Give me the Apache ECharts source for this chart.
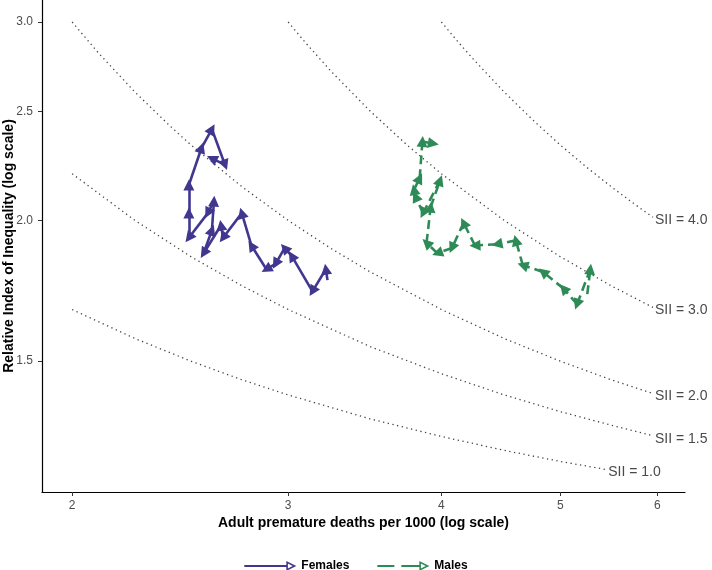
<!DOCTYPE html>
<html>
<head>
<meta charset="utf-8">
<script src="https://cdn.jsdelivr.net/npm/echarts@6/dist/echarts.min.js"></script>
<style>html,body{margin:0;padding:0;background:#fff;}#c{width:712px;height:570px;}</style>
</head>
<body>
<div id="c"></div>
<script>
// ---- data ----
const xTicks = [2, 3, 4, 5, 6];
const yTicks = [1.5, 2.0, 2.5, 3.0];
const xRange = [1.890, 6.319];
const yRange = [1.148, 3.138];

const femX = [3.23, 3.22, 3.14, 3.02, 2.98, 2.93, 2.88, 2.80, 2.75, 2.655, 2.645, 2.56, 2.60, 2.61, 2.58, 2.49, 2.49, 2.49, 2.55, 2.60, 2.665, 2.60];
const femY = [1.77, 1.81, 1.73, 1.86, 1.89, 1.83, 1.81, 1.90, 2.03, 1.93, 1.98, 1.87, 1.96, 2.08, 2.03, 1.93, 2.03, 2.15, 2.32, 2.41, 2.24, 2.27];

const maleX = [5.26, 5.29, 5.16, 5.03, 4.84, 4.66, 4.60, 4.44, 4.26, 4.17, 4.08, 3.97, 3.89, 3.92, 3.99, 3.865, 3.81, 3.80, 3.84, 3.86, 3.94];
const maleY = [1.72, 1.81, 1.685, 1.74, 1.80, 1.825, 1.92, 1.905, 1.90, 1.99, 1.89, 1.87, 1.91, 2.055, 2.17, 2.03, 2.10, 2.13, 2.18, 2.35, 2.34];

const sii10X = [2, 2.25, 2.5, 2.75, 3, 3.5, 4, 4.5, 5, 5.45];
const sii10Y = [1.667, 1.571, 1.5, 1.444, 1.4, 1.333, 1.286, 1.25, 1.222, 1.202];
const sii15X = [2, 2.25, 2.5, 2.75, 3, 3.5, 4, 4.5, 5, 5.5, 5.95];
const sii15Y = [2.2, 2.0, 1.857, 1.75, 1.667, 1.545, 1.462, 1.4, 1.353, 1.316, 1.288];
const sii20X = [2, 2.1, 2.25, 2.4, 2.5, 2.75, 3, 3.25, 3.5, 4, 4.5, 5, 5.5, 5.95];
const sii20Y = [3.0, 2.818, 2.6, 2.429, 2.333, 2.143, 2.0, 1.889, 1.8, 1.667, 1.571, 1.5, 1.444, 1.404];
const sii30X = [3, 3.1, 3.25, 3.5, 3.75, 4, 4.5, 5, 5.5, 5.95];
const sii30Y = [3.0, 2.875, 2.714, 2.5, 2.333, 2.2, 2.0, 1.857, 1.75, 1.674];
const sii40X = [4, 4.125, 4.25, 4.5, 4.75, 5, 5.25, 5.5, 5.75, 5.95];
const sii40Y = [3.0, 2.882, 2.778, 2.6, 2.455, 2.333, 2.231, 2.143, 2.067, 2.013];
const siiNames = ['SII = 1.0', 'SII = 1.5', 'SII = 2.0', 'SII = 3.0', 'SII = 4.0'];

// ---- build ----
const L = Math.log;
function pts(xs, ys) { return xs.map((x, i) => [L(x), L(ys[i])]); }
function segs(xs, ys) {
  const p = pts(xs, ys), out = [];
  for (let i = 0; i < p.length - 1; i++) out.push({ coords: [p[i], p[i + 1]] });
  return out;
}
const FEM = '#41378F';
const MAL = '#2E8B57';
const FONT = 'Liberation Sans, Arial, sans-serif';
const curveSets = [[sii10X, sii10Y], [sii15X, sii15Y], [sii20X, sii20Y], [sii30X, sii30Y], [sii40X, sii40Y]];

const curveSeries = curveSets.map((c, k) => ({
  type: 'line',
  name: siiNames[k],
  data: pts(c[0], c[1]),
  showSymbol: false,
  symbol: 'none',
  silent: true,
  lineStyle: { color: '#444', width: 1.3, type: [1.3, 3.5] },
  endLabel: {
    show: true, formatter: siiNames[k], distance: 2, offset: [0, 3],
    color: '#4a4a4a', fontSize: 14, fontFamily: FONT
  },
  z: 1
}));

const femIcon = 'path://M0,4H42V6H0Z M42,0L52,5L42,10Z M43.6,2.6L43.6,7.4L48.4,5Z';
const malIcon = 'path://M0,4H17V6H0Z M24,4H42V6H24Z M42,0L52,5L42,10Z M43.6,2.6L43.6,7.4L48.4,5Z';

const chart = echarts.init(document.getElementById('c'), null, { renderer: 'canvas' });
chart.setOption({
  animation: false,
  backgroundColor: '#fff',
  grid: { left: 42, right: 27, top: 0, bottom: 78, containLabel: false, outerBoundsMode: 'none' },
  xAxis: {
    type: 'value', min: L(xRange[0]), max: L(xRange[1]),
    name: 'Adult premature deaths per 1000 (log scale)',
    nameLocation: 'middle', nameGap: 31, nameMoveOverlap: false,
    nameTextStyle: { fontSize: 14, fontWeight: 'bold', color: '#000', fontFamily: FONT, verticalAlign: 'middle' },
    axisLine: { show: true, onZero: false, lineStyle: { color: '#000', width: 1.2 } },
    axisTick: { show: true, length: 4, lineStyle: { color: '#333' }, customValues: xTicks.map(L) },
    axisLabel: { show: true, margin: 8, color: '#4d4d4d', fontSize: 12, fontFamily: FONT,
      customValues: xTicks.map(L), formatter: v => String(Math.round(Math.exp(v))) },
    splitLine: { show: false }
  },
  yAxis: {
    type: 'value', min: L(yRange[0]), max: L(yRange[1]),
    name: 'Relative Index of Inequality (log scale)',
    nameLocation: 'middle', nameGap: 33, nameRotate: 90, nameMoveOverlap: false,
    nameTextStyle: { fontSize: 14, fontWeight: 'bold', color: '#000', fontFamily: FONT, verticalAlign: 'middle' },
    axisLine: { show: true, onZero: false, lineStyle: { color: '#000', width: 1.2 } },
    axisTick: { show: true, length: 4, lineStyle: { color: '#333' }, customValues: yTicks.map(L) },
    axisLabel: { show: true, margin: 9, color: '#4d4d4d', fontSize: 12, fontFamily: FONT,
      customValues: yTicks.map(L), formatter: v => Math.exp(v).toFixed(1) },
    splitLine: { show: false }
  },
  legend: {
    top: 555, left: 'center', itemWidth: 52, itemHeight: 10, itemGap: 28,
    textStyle: { fontSize: 12, fontWeight: 'bold', color: '#000', fontFamily: FONT },
    data: [
      { name: 'Females', icon: femIcon, itemStyle: { color: FEM, borderWidth: 0 } },
      { name: 'Males', icon: malIcon, itemStyle: { color: MAL, borderWidth: 0 } }
    ]
  },
  series: curveSeries.concat([
    {
      type: 'lines', name: 'Females', coordinateSystem: 'cartesian2d',
      data: segs(femX, femY), symbol: ['none', 'triangle'], symbolSize: 11,
      lineStyle: { color: FEM, width: 2.6, opacity: 1, type: 'solid' },
      itemStyle: { color: FEM }, color: FEM, silent: true, z: 5
    },
    {
      type: 'lines', name: 'Males', coordinateSystem: 'cartesian2d',
      data: segs(maleX, maleY), symbol: ['none', 'triangle'], symbolSize: 11,
      lineStyle: { color: MAL, width: 2.6, opacity: 1, type: [9, 5] },
      itemStyle: { color: MAL }, color: MAL, silent: true, z: 5
    }
  ])
});
</script>
</body>
</html>
